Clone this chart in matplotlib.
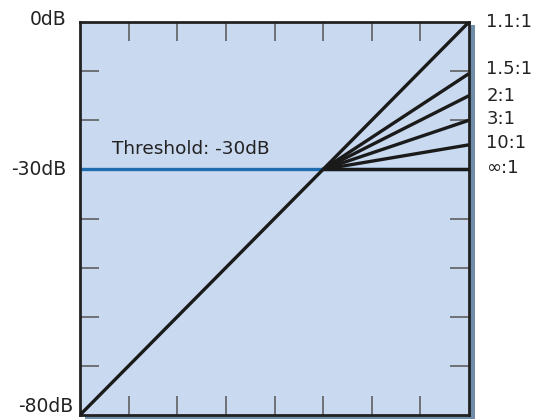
import matplotlib
matplotlib.use("Agg")
import matplotlib.pyplot as plt
from matplotlib.patches import Rectangle

# compressor transfer curves, input dB -> output dB
threshold = -30
ratio_labels = ["1.1:1", "1.5:1", "2:1", "3:1", "10:1", "\u221e:1"]
ratio_end_db = [0, -10.5, -15, -20, -25, -30]
label_nudge = [0, 3, 0, 1, 1, 1]
y_labels = ["0dB", "-30dB", "-80dB"]
y_label_vals = [0, -30, -80]

plt.rcParams['font.family'] = ['DejaVu Sans']
txt = '#222222'

fig = plt.figure(figsize=(5.34, 4.19), dpi=100)
ax = fig.add_axes([80 / 534, 4 / 419, 389 / 534, 393 / 419])
ax.set_zorder(2)

# drop shadow right/bottom of the box
sh = Rectangle((85 / 534, 0.0), 390 / 534, 394 / 419, transform=fig.transFigure,
               facecolor='#6f8da8', edgecolor='none', zorder=0)
fig.patches.append(sh)

ax.set_facecolor('#c9d9ef')
ax.set_xlim(-80, 0)
ax.set_ylim(-80, 0)

ax.axhline(threshold, color='#1f6db0', lw=2.4, zorder=2)
ax.plot([-80, threshold], [-80, threshold], color='#1a1a1a', lw=2.4, solid_capstyle='butt', zorder=3)
for lab, end, nd in zip(ratio_labels, ratio_end_db, label_nudge):
    ax.plot([threshold, 0], [threshold, end], color='#1a1a1a', lw=2.4, solid_capstyle='butt', zorder=3)
    ax.annotate(lab, (0, end), xytext=(12.5, nd), textcoords='offset points',
                ha='left', va='center', fontsize=13, color=txt, annotation_clip=False)

ax.text(-73.4, -25.9, "Threshold: -30dB", fontsize=13.3, color=txt, ha='left', va='center')

ax.set_xticks(range(-70, 0, 10))
ax.set_yticks(range(-70, 0, 10))
ax.tick_params(direction='in', length=14, width=1.1, color='#555555',
               top=True, right=True, labelbottom=False, labelleft=False)
for s in ax.spines.values():
    s.set_linewidth(2)
    s.set_color('#222222')

for lab, v in zip(y_labels, y_label_vals):
    yy = v if v > -80 else -78.3
    dx = -10 if v > -80 else -5
    ax.annotate(lab, (-80, yy), xytext=(dx, 2 if v == 0 else 0), textcoords='offset points',
                ha='right', va='center', fontsize=13.5, color=txt, annotation_clip=False)

fig.savefig("out.png", dpi=100)
